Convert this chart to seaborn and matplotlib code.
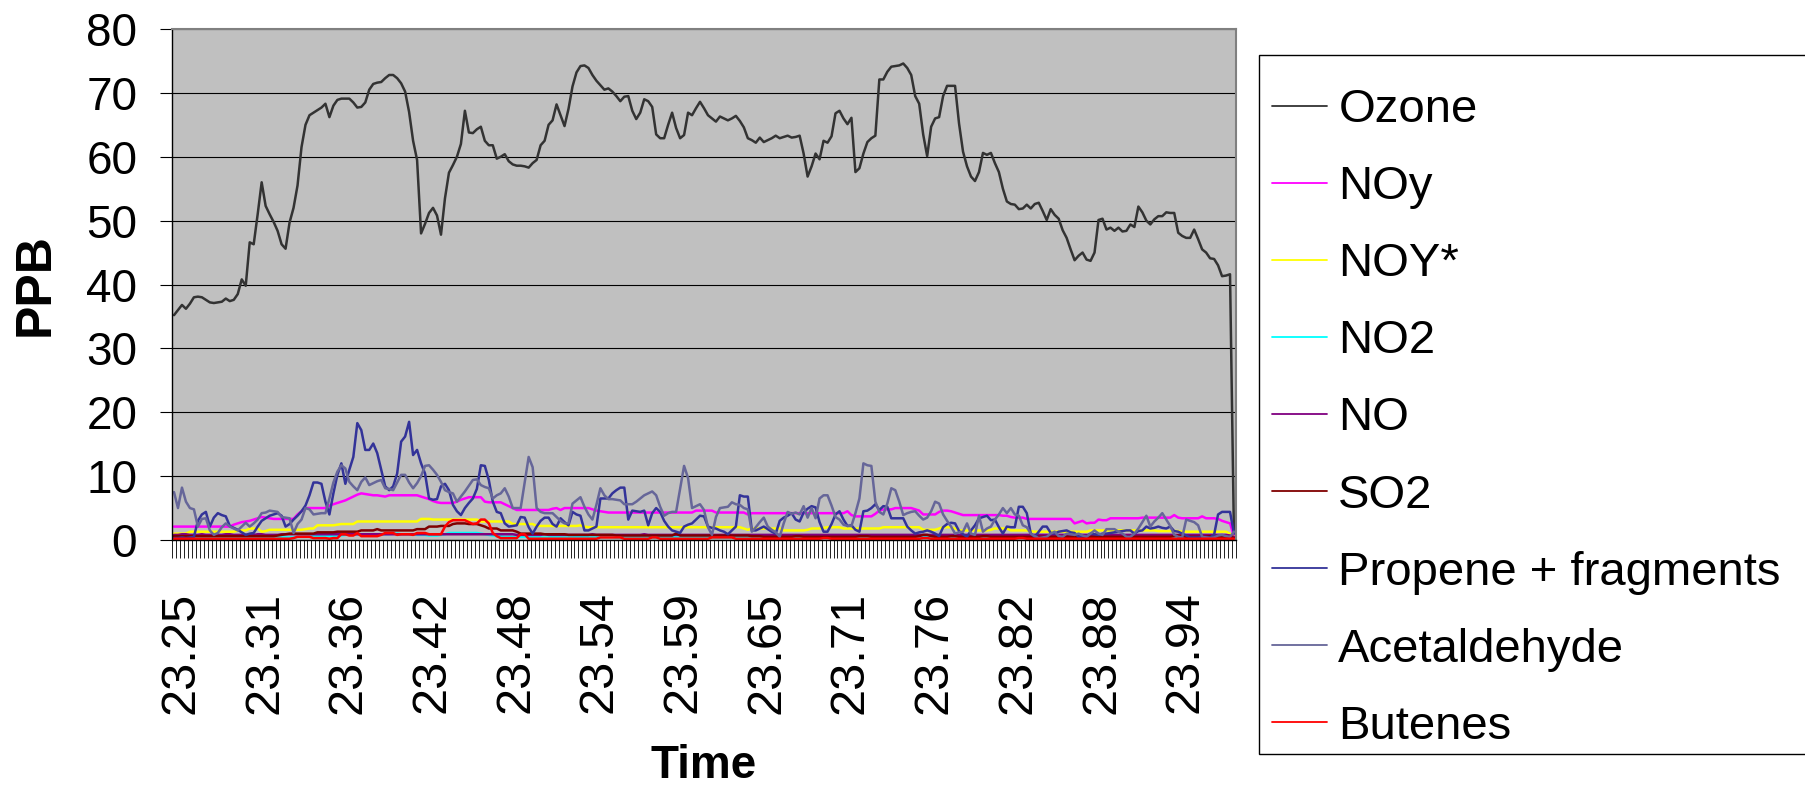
import numpy as np
import pandas as pd
import matplotlib
matplotlib.use("Agg")
import matplotlib.pyplot as plt
import matplotlib.transforms as mtransforms
from matplotlib.lines import Line2D
from matplotlib.patches import Rectangle
import seaborn as sns

# ---------------- data ----------------
tick_labels = ["23.25", "23.31", "23.36", "23.42", "23.48", "23.54", "23.59",
               "23.65", "23.71", "23.76", "23.82", "23.88", "23.94"]
label_every = 21

ozone = [
    35.2, 36.0, 36.8, 36.2, 37.0, 38.0, 38.1, 38.0, 37.6, 37.2,
    37.1, 37.2, 37.3, 37.8, 37.4, 37.6, 38.5, 40.8, 39.8, 46.6,
    46.3, 51.0, 56.0, 52.3, 51.0, 49.8, 48.4, 46.3, 45.6, 49.7,
    52.0, 55.5, 61.5, 65.0, 66.5, 66.9, 67.3, 67.7, 68.3, 66.2,
    68.0, 68.9, 69.1, 69.1, 69.1, 68.5, 67.7, 67.8, 68.5, 70.5,
    71.4, 71.6, 71.7, 72.3, 72.8, 72.8, 72.3, 71.5, 70.2, 67.0,
    62.5, 59.5, 48.0, 49.5, 51.2, 52.0, 50.8, 47.8, 53.5, 57.5,
    58.7, 60.0, 62.0, 67.2, 63.8, 63.7, 64.3, 64.7, 62.5, 61.8,
    61.8, 59.7, 60.0, 60.4, 59.3, 58.8, 58.6, 58.6, 58.5, 58.3,
    59.0, 59.5, 61.8, 62.5, 65.0, 65.7, 68.2, 66.5, 64.8, 67.5,
    71.0, 73.2, 74.2, 74.3, 73.9, 72.8, 71.9, 71.2, 70.5, 70.7,
    70.2, 69.5, 68.7, 69.4, 69.5, 67.2, 65.9, 66.9, 69.0, 68.7,
    67.8, 63.5, 62.9, 62.9, 65.0, 66.9, 64.5, 62.9, 63.4, 66.9,
    66.5, 67.6, 68.6, 67.6, 66.5, 66.0, 65.5, 66.3, 66.0, 65.7,
    66.0, 66.4, 65.6, 64.6, 62.9, 62.6, 62.2, 63.0, 62.3, 62.6,
    62.9, 63.3, 62.9, 63.1, 63.3, 63.0, 63.1, 63.3, 60.5, 56.9,
    58.5, 60.5, 59.6, 62.5, 62.2, 63.2, 66.8, 67.2, 66.0, 65.1,
    66.1, 57.6, 58.2, 60.5, 62.3, 62.9, 63.3, 72.1, 72.1, 73.3,
    74.1, 74.2, 74.3, 74.6, 73.9, 72.8, 69.5, 68.3, 63.5, 60.1,
    64.7, 66.0, 66.2, 69.5, 71.1, 71.1, 71.1, 65.2, 60.8, 58.5,
    56.9, 56.2, 57.6, 60.6, 60.3, 60.6, 59.0, 57.6, 55.0, 53.0,
    52.6, 52.5, 51.8, 51.9, 52.5, 51.9, 52.6, 52.8, 51.5, 50.1,
    51.8, 50.9, 50.3, 48.5, 47.3, 45.5, 43.8, 44.5, 45.0, 43.9,
    43.7, 45.0, 50.1, 50.3, 48.6, 48.9, 48.4, 48.9, 48.3, 48.4,
    49.4, 49.0, 52.2, 51.3, 50.0, 49.4, 50.2, 50.7, 50.7, 51.3,
    51.2, 51.2, 48.1, 47.6, 47.3, 47.3, 48.6, 47.1, 45.5, 45.0,
    44.1, 44.0, 43.0, 41.3, 41.4, 41.6, 0.3,
]

noy = [
    2.1, 2.1, 2.1, 2.1, 2.1, 2.1, 2.1, 2.1, 2.1, 2.1,
    2.1, 2.1, 2.1, 2.1, 2.1, 2.4, 2.6, 2.8, 2.9, 3.0,
    3.2, 3.4, 3.6, 3.5, 3.4, 3.3, 3.3, 3.3, 3.3, 3.3,
    3.3, 4.0, 4.5, 5.0, 5.0, 5.0, 5.0, 5.0, 5.0, 5.4,
    5.6, 5.8, 6.0, 6.2, 6.5, 6.8, 7.1, 7.3, 7.2, 7.1,
    7.0, 7.0, 6.9, 6.8, 7.0, 7.0, 7.0, 7.0, 7.0, 7.0,
    7.0, 7.0, 6.8, 6.6, 6.4, 6.1, 5.9, 5.8, 5.8, 5.8,
    5.8, 6.0, 6.3, 6.5, 6.7, 6.7, 6.7, 6.7, 6.0, 5.9,
    5.9, 5.9, 5.9, 5.6, 5.3, 5.0, 4.7, 4.7, 4.7, 4.7,
    4.7, 4.7, 4.7, 4.7, 4.7, 4.9, 5.0, 4.7, 5.0, 5.0,
    5.0, 5.0, 5.0, 5.0, 5.0, 4.8, 4.6, 4.5, 4.4, 4.3,
    4.3, 4.3, 4.3, 4.3, 4.3, 4.3, 4.3, 4.3, 4.3, 4.3,
    4.3, 4.3, 4.3, 4.3, 4.3, 4.3, 4.3, 4.3, 4.3, 4.3,
    4.3, 4.6, 4.6, 4.6, 4.6, 4.6, 4.3, 4.3, 4.3, 4.3,
    4.3, 4.3, 4.3, 4.3, 4.0, 4.2, 4.2, 4.2, 4.2, 4.2,
    4.2, 4.2, 4.2, 4.2, 4.2, 4.2, 4.2, 4.2, 4.2, 4.2,
    4.2, 4.2, 4.2, 4.2, 4.2, 4.2, 4.2, 4.2, 4.2, 4.5,
    3.9, 3.7, 3.7, 3.7, 3.7, 3.7, 4.1, 4.6, 4.8, 4.8,
    4.8, 5.0, 5.0, 5.0, 5.0, 5.0, 4.8, 4.6, 4.0, 4.0,
    4.0, 4.0, 4.4, 4.6, 4.6, 4.5, 4.3, 4.1, 3.9, 3.9,
    3.9, 3.9, 3.9, 3.9, 3.9, 3.9, 3.9, 3.9, 3.8, 3.8,
    3.6, 3.5, 3.5, 3.5, 3.3, 3.3, 3.3, 3.3, 3.3, 3.3,
    3.3, 3.3, 3.3, 3.3, 3.3, 3.3, 2.6, 2.8, 3.0, 2.6,
    2.7, 2.7, 3.2, 3.1, 3.1, 3.4, 3.4, 3.4, 3.4, 3.4,
    3.4, 3.4, 3.4, 3.5, 3.5, 3.5, 3.5, 3.5, 3.5, 3.5,
    3.5, 3.9, 3.5, 3.4, 3.4, 3.4, 3.4, 3.4, 3.7, 3.4,
    3.4, 3.4, 3.3, 3.0, 2.8, 2.6, 0.6,
]

noy_star = [
    1.0, 1.0, 1.0, 1.0, 1.3, 1.3, 1.3, 1.3, 1.3, 1.3,
    1.3, 1.3, 1.3, 1.3, 1.3, 1.3, 1.5, 1.5, 1.5, 1.8,
    1.8, 1.8, 1.3, 1.4, 1.6, 1.6, 1.6, 1.6, 1.6, 1.6,
    1.6, 1.6, 1.6, 1.7, 1.8, 1.8, 2.3, 2.3, 2.3, 2.3,
    2.3, 2.4, 2.5, 2.5, 2.5, 2.5, 2.9, 2.9, 2.9, 2.9,
    2.9, 2.9, 2.9, 2.9, 2.9, 2.9, 2.9, 2.9, 2.9, 2.9,
    2.9, 2.9, 3.3, 3.3, 3.3, 3.2, 3.2, 3.2, 3.2, 3.2,
    3.2, 3.2, 3.2, 3.2, 3.2, 3.2, 3.2, 2.9, 2.9, 2.9,
    2.9, 2.9, 2.9, 2.9, 2.9, 2.5, 2.5, 2.5, 2.5, 2.5,
    2.5, 2.2, 2.2, 2.2, 2.2, 2.2, 2.2, 2.2, 2.2, 2.2,
    2.2, 2.2, 2.3, 2.1, 2.0, 2.0, 2.0, 2.0, 2.0, 2.0,
    2.0, 2.0, 2.0, 2.0, 2.0, 2.0, 2.0, 2.0, 2.0, 2.0,
    2.0, 2.0, 2.0, 2.0, 2.0, 2.0, 2.0, 2.0, 2.0, 2.0,
    2.0, 2.0, 2.0, 2.0, 2.0, 2.0, 2.0, 2.0, 2.0, 2.0,
    2.0, 2.0, 2.0, 1.8, 1.6, 1.8, 1.8, 1.8, 1.8, 1.8,
    1.8, 1.8, 1.8, 1.5, 1.5, 1.5, 1.5, 1.5, 1.5, 1.6,
    1.8, 1.8, 1.8, 1.9, 2.0, 2.0, 2.0, 2.0, 1.8, 1.8,
    1.8, 1.8, 1.8, 1.8, 1.8, 1.8, 1.8, 1.8, 2.0, 2.0,
    2.0, 2.0, 2.0, 2.0, 2.0, 2.0, 2.0, 2.0, 1.6, 1.6,
    1.6, 1.6, 1.8, 2.0, 2.0, 2.0, 1.8, 1.5, 1.5, 1.5,
    1.5, 1.5, 1.5, 1.5, 1.5, 1.6, 1.8, 1.8, 1.8, 1.8,
    1.5, 1.5, 1.5, 1.5, 1.5, 1.4, 1.3, 1.3, 1.3, 1.3,
    1.3, 1.3, 1.3, 1.3, 1.3, 1.3, 1.3, 1.3, 1.3, 1.3,
    1.5, 1.5, 1.5, 1.5, 1.5, 1.5, 1.5, 1.5, 1.5, 1.5,
    1.5, 1.5, 1.5, 1.5, 1.5, 1.5, 1.5, 1.4, 1.4, 1.4,
    1.4, 1.4, 1.4, 1.3, 1.3, 1.3, 1.3, 1.3, 1.3, 1.3,
    1.3, 1.3, 1.3, 1.3, 1.3, 1.0, 0.5,
]

no2 = [
    0.4, 0.4, 0.4, 0.4, 0.4, 0.4, 0.3, 0.3, 0.3, 0.3,
    0.3, 0.3, 0.3, 0.3, 0.3, 0.3, 0.3, 0.3, 0.3, 0.3,
    0.3, 0.3, 0.3, 0.4, 0.4, 0.4, 0.4, 0.4, 0.4, 0.4,
    0.4, 0.5, 0.5, 0.5, 0.5, 0.6, 0.6, 0.6, 0.6, 0.6,
    0.6, 0.7, 0.7, 0.8, 0.9, 0.9, 0.9, 0.9, 0.9, 0.9,
    0.9, 0.9, 0.9, 0.9, 0.9, 1.0, 1.0, 0.9, 0.9, 0.9,
    0.9, 0.8, 0.8, 0.8, 0.7, 0.7, 0.7, 0.8, 0.9, 1.1,
    1.1, 1.1, 1.1, 1.1, 1.1, 1.1, 1.1, 1.0, 0.9, 0.8,
    0.7, 0.6, 0.6, 0.5, 0.5, 0.5, 0.5, 0.5, 0.5, 0.5,
    0.5, 0.5, 0.4, 0.4, 0.4, 0.5, 0.5, 0.4, 0.4, 0.4,
    0.4, 0.5, 0.5, 0.5, 0.4, 0.4, 0.4, 0.4, 0.5, 0.5,
    0.5, 0.4, 0.4, 0.4, 0.4, 0.4, 0.5, 0.5, 0.4, 0.4,
    0.4, 0.4, 0.4, 0.5, 0.5, 0.5, 0.4, 0.4, 0.4, 0.4,
    0.4, 0.4, 0.4, 0.5, 0.5, 0.4, 0.4, 0.4, 0.4, 0.4,
    0.4, 0.4, 0.5, 0.5, 0.5, 0.4, 0.4, 0.4, 0.4, 0.4,
    0.5, 0.5, 0.4, 0.4, 0.4, 0.4, 0.4, 0.5, 0.5, 0.4,
    0.4, 0.4, 0.4, 0.4, 0.4, 0.5, 0.5, 0.5, 0.4, 0.4,
    0.4, 0.4, 0.4, 0.4, 0.5, 0.5, 0.4, 0.4, 0.4, 0.4,
    0.4, 0.5, 0.5, 0.5, 0.4, 0.4, 0.4, 0.4, 0.4, 0.5,
    0.5, 0.4, 0.4, 0.4, 0.4, 0.4, 0.4, 0.5, 0.5, 0.4,
    0.4, 0.4, 0.4, 0.4, 0.5, 0.5, 0.4, 0.4, 0.4, 0.4,
    0.4, 0.4, 0.5, 0.5, 0.4, 0.4, 0.4, 0.4, 0.4, 0.4,
    0.5, 0.5, 0.4, 0.4, 0.4, 0.4, 0.4, 0.4, 0.5, 0.5,
    0.4, 0.4, 0.4, 0.4, 0.4, 0.5, 0.5, 0.4, 0.4, 0.4,
    0.4, 0.4, 0.4, 0.5, 0.5, 0.4, 0.4, 0.4, 0.4, 0.4,
    0.5, 0.5, 0.4, 0.4, 0.4, 0.4, 0.4, 0.4, 0.5, 0.5,
    0.4, 0.4, 0.4, 0.4, 0.4, 0.4, 0.3,
]

no = [
    0.8, 0.8, 0.9, 0.9, 0.8, 0.8, 0.8, 0.9, 0.8, 0.8,
    0.8, 0.8, 0.8, 0.9, 0.9, 0.8, 0.8, 0.8, 0.8, 0.8,
    0.8, 0.9, 0.9, 0.8, 0.8, 0.8, 0.8, 0.9, 0.9, 0.9,
    0.9, 0.9, 0.9, 0.9, 0.9, 0.9, 0.9, 0.9, 0.9, 0.9,
    0.9, 0.9, 0.9, 0.9, 0.9, 0.9, 0.9, 0.9, 0.9, 0.9,
    0.9, 0.9, 0.9, 0.9, 0.9, 0.9, 0.9, 0.9, 0.9, 0.9,
    0.9, 0.9, 0.9, 0.9, 0.9, 0.9, 0.9, 0.9, 0.9, 0.9,
    0.9, 0.9, 0.9, 0.9, 0.9, 0.9, 0.9, 0.9, 0.9, 0.9,
    0.9, 0.9, 0.9, 0.9, 0.9, 0.9, 0.8, 0.8, 0.8, 0.8,
    0.8, 0.8, 0.8, 0.9, 0.8, 0.8, 0.8, 0.8, 0.8, 0.8,
    0.8, 0.8, 0.8, 0.8, 0.8, 0.9, 0.8, 0.8, 0.8, 0.8,
    0.8, 0.8, 0.8, 0.8, 0.8, 0.8, 0.8, 0.8, 0.9, 0.8,
    0.8, 0.8, 0.8, 0.8, 0.8, 0.8, 0.8, 0.8, 0.8, 0.8,
    0.8, 0.8, 0.8, 0.8, 0.8, 0.8, 0.8, 0.8, 0.8, 0.8,
    0.8, 0.8, 0.8, 0.8, 0.8, 0.8, 0.8, 0.8, 0.8, 0.8,
    0.8, 0.8, 0.8, 0.8, 0.8, 0.8, 0.8, 0.8, 0.8, 0.8,
    0.8, 0.8, 0.8, 0.8, 0.8, 0.8, 0.8, 0.8, 0.8, 0.8,
    0.8, 0.8, 0.8, 0.8, 0.8, 0.8, 0.8, 0.8, 0.8, 0.8,
    0.8, 0.8, 0.8, 0.8, 0.8, 0.8, 0.8, 0.8, 0.8, 0.8,
    0.8, 0.8, 0.8, 0.8, 0.8, 0.8, 0.8, 0.8, 0.8, 0.8,
    0.8, 0.8, 0.8, 0.8, 0.8, 0.8, 0.8, 0.8, 0.8, 0.8,
    0.8, 0.8, 0.8, 0.8, 0.8, 0.8, 0.8, 0.8, 0.8, 0.8,
    0.8, 0.8, 0.8, 0.8, 0.8, 0.8, 0.8, 0.8, 0.8, 0.8,
    0.8, 0.8, 0.8, 0.8, 0.8, 0.8, 0.8, 0.8, 0.8, 0.8,
    0.8, 0.8, 0.8, 0.8, 0.8, 0.8, 0.8, 0.8, 0.8, 0.8,
    0.8, 0.8, 0.8, 0.8, 0.8, 0.8, 0.8, 0.8, 0.8, 0.8,
    0.8, 0.8, 0.8, 0.8, 0.8, 0.7, 0.5,
]

so2 = [
    0.6, 0.6, 0.6, 0.6, 0.6, 0.6, 0.6, 0.6, 0.6, 0.6,
    0.6, 0.6, 0.6, 0.6, 0.6, 0.6, 0.6, 0.6, 0.6, 0.6,
    0.6, 0.6, 0.6, 0.6, 0.6, 0.6, 0.7, 0.8, 0.9, 1.0,
    1.0, 1.0, 1.0, 1.0, 1.0, 1.0, 1.2, 1.2, 1.2, 1.2,
    1.2, 1.3, 1.3, 1.3, 1.3, 1.3, 1.3, 1.5, 1.5, 1.5,
    1.5, 1.7, 1.5, 1.5, 1.5, 1.5, 1.5, 1.5, 1.5, 1.5,
    1.5, 1.7, 1.7, 1.7, 2.1, 2.1, 2.1, 2.2, 2.2, 2.2,
    2.5, 2.6, 2.6, 2.6, 2.5, 2.5, 2.5, 2.3, 2.1, 1.8,
    1.8, 1.8, 1.5, 1.5, 1.5, 1.5, 1.3, 1.0, 1.0, 1.0,
    1.0, 1.0, 1.0, 0.9, 0.9, 0.9, 0.9, 0.9, 0.9, 0.8,
    0.8, 0.8, 0.8, 0.8, 0.8, 0.8, 0.8, 0.8, 0.8, 0.8,
    0.8, 0.7, 0.7, 0.7, 0.7, 0.7, 0.7, 0.7, 0.7, 0.7,
    0.7, 0.7, 0.7, 0.7, 0.7, 0.7, 1.0, 0.7, 0.7, 0.7,
    0.7, 0.7, 0.7, 0.7, 0.7, 0.7, 0.7, 0.7, 0.7, 0.7,
    0.7, 0.7, 0.7, 0.7, 0.7, 0.6, 0.6, 0.6, 0.5, 0.5,
    0.5, 0.5, 0.5, 0.5, 0.5, 0.5, 0.6, 0.6, 0.5, 0.5,
    0.5, 0.5, 0.5, 0.5, 0.5, 0.5, 0.5, 0.5, 0.5, 0.5,
    0.5, 0.5, 0.6, 0.6, 0.6, 0.5, 0.5, 0.5, 0.5, 0.5,
    0.5, 0.5, 0.5, 0.5, 0.5, 0.5, 0.5, 0.6, 0.8, 0.8,
    0.6, 0.5, 0.5, 0.5, 0.5, 0.6, 0.6, 0.5, 0.5, 0.5,
    0.5, 0.5, 0.5, 0.6, 0.6, 0.5, 0.5, 0.5, 0.5, 0.5,
    0.5, 0.5, 0.5, 0.5, 0.5, 0.5, 0.5, 0.5, 0.5, 0.5,
    0.5, 0.5, 0.5, 0.5, 0.5, 0.5, 0.5, 0.5, 0.5, 0.5,
    0.5, 0.5, 0.5, 0.5, 0.5, 0.5, 0.5, 0.5, 0.5, 0.5,
    0.5, 0.5, 0.5, 0.5, 0.5, 0.5, 0.5, 0.5, 0.5, 0.5,
    0.5, 0.6, 0.7, 0.6, 0.5, 0.5, 0.5, 0.5, 0.5, 0.5,
    0.6, 0.5, 0.5, 0.5, 0.5, 0.5, 0.3,
]

propene = [
    0.3, 0.3, 0.4, 0.3, 0.4, 0.5, 3.0, 4.0, 4.4, 2.1,
    3.5, 4.2, 3.9, 3.7, 2.2, 1.9, 1.6, 1.2, 0.8, 1.0,
    1.1, 2.1, 3.0, 3.4, 3.8, 4.0, 4.2, 3.8, 2.1, 2.5,
    3.2, 3.8, 4.5, 5.4, 7.0, 9.0, 9.0, 8.8, 6.0, 4.0,
    7.3, 10.2, 12.0, 8.8, 11.0, 13.0, 18.3, 17.2, 14.1, 14.1,
    15.1, 13.6, 11.0, 8.4, 7.8, 8.4, 10.4, 15.4, 16.2, 18.5,
    13.3, 14.1, 12.0, 10.4, 6.5, 6.3, 6.4, 8.4, 8.8, 7.8,
    5.5, 4.5, 3.9, 5.0, 5.8, 6.5, 8.0, 11.7, 11.6, 9.4,
    6.0, 4.4, 4.2, 2.6, 2.1, 2.2, 2.3, 3.6, 3.5, 2.0,
    1.0, 2.1, 3.0, 3.5, 3.5, 2.5, 2.1, 3.4, 2.8, 2.3,
    4.4, 4.0, 3.8, 1.5, 1.5, 1.8, 2.1, 6.5, 6.5, 6.5,
    7.3, 7.8, 8.2, 8.2, 3.2, 4.6, 4.5, 4.4, 4.6, 2.3,
    4.2, 5.0, 4.4, 3.0, 2.1, 1.5, 1.3, 1.1, 2.1, 2.4,
    2.6, 3.2, 3.8, 3.7, 2.1, 1.9, 1.8, 1.5, 1.3, 0.9,
    1.5, 2.1, 7.0, 6.8, 6.8, 1.5, 1.5, 1.8, 2.1, 1.7,
    1.3, 1.0, 3.0, 3.5, 3.8, 4.2, 3.2, 2.9, 4.3, 4.9,
    5.3, 5.1, 2.8, 1.3, 1.3, 2.5, 4.0, 4.5, 3.2, 2.2,
    2.3, 1.6, 1.3, 4.5, 4.6, 5.0, 5.6, 4.7, 5.3, 5.2,
    3.4, 3.4, 3.4, 3.4, 2.1, 1.5, 1.0, 1.2, 1.3, 1.5,
    1.3, 1.0, 0.6, 2.0, 2.5, 2.7, 2.6, 1.4, 0.9, 0.5,
    1.5, 2.3, 3.4, 3.6, 3.8, 3.1, 3.2, 2.0, 1.0, 2.1,
    2.0, 2.0, 5.2, 5.2, 4.2, 1.0, 0.5, 1.3, 2.1, 2.1,
    1.1, 1.0, 1.3, 1.4, 1.5, 1.2, 1.1, 0.5, 0.6, 0.6,
    1.0, 0.9, 0.8, 1.0, 1.0, 1.1, 1.2, 1.3, 1.4, 1.5,
    1.5, 1.0, 1.4, 1.5, 2.1, 1.8, 1.9, 2.1, 1.9, 1.8,
    2.1, 1.4, 1.3, 1.0, 0.7, 0.4, 0.4, 0.4, 0.5, 0.4,
    0.4, 0.8, 4.0, 4.4, 4.4, 4.4, 1.0,
]

acetaldehyde = [
    7.5, 5.0, 8.2, 6.0, 5.0, 4.8, 2.1, 3.3, 3.4, 1.5,
    0.8, 1.1, 2.0, 2.6, 2.1, 1.8, 1.5, 2.1, 2.7, 2.1,
    2.6, 3.2, 4.2, 4.3, 4.6, 4.5, 4.4, 3.6, 3.5, 3.4,
    1.1, 2.5, 3.2, 5.0, 4.8, 4.0, 4.1, 4.2, 4.2, 6.5,
    9.0, 10.7, 11.7, 11.2, 9.1, 8.4, 7.8, 9.1, 9.8, 8.6,
    8.9, 9.2, 9.4, 8.1, 8.0, 7.8, 9.0, 10.2, 10.2, 9.0,
    8.1, 8.9, 10.0, 11.6, 11.7, 11.0, 10.2, 9.1, 7.8, 7.5,
    7.3, 6.0, 6.8, 7.6, 8.5, 9.4, 9.5, 8.6, 8.3, 8.1,
    6.5, 7.0, 7.3, 8.1, 6.8, 5.0, 5.0, 5.0, 9.0, 13.0,
    11.4, 5.0, 4.4, 4.2, 4.2, 4.2, 3.6, 3.0, 2.6, 2.6,
    5.7, 6.2, 6.7, 5.2, 4.0, 3.2, 5.5, 8.1, 7.0, 6.4,
    6.4, 6.3, 6.2, 5.6, 5.6, 5.6, 6.0, 6.5, 7.0, 7.3,
    7.6, 7.0, 5.2, 3.8, 4.2, 4.4, 4.4, 8.0, 11.6, 9.7,
    5.0, 5.3, 5.6, 4.7, 2.0, 0.8, 3.6, 5.0, 5.1, 5.2,
    5.9, 5.6, 5.5, 5.0, 4.8, 1.3, 2.0, 2.8, 3.5, 2.1,
    1.6, 1.2, 0.5, 2.6, 4.4, 4.1, 4.3, 4.0, 5.3, 3.5,
    5.0, 3.4, 6.5, 7.0, 7.0, 5.4, 3.6, 3.2, 2.4, 2.2,
    2.2, 4.2, 6.5, 12.0, 11.7, 11.6, 6.0, 4.4, 4.0, 5.7,
    8.1, 7.8, 6.0, 3.9, 4.2, 4.4, 4.5, 3.8, 3.2, 3.5,
    4.5, 6.0, 5.7, 4.0, 3.0, 2.1, 1.0, 1.2, 1.3, 2.6,
    1.0, 0.8, 3.8, 1.3, 1.8, 2.1, 3.2, 4.0, 5.0, 4.2,
    5.0, 4.0, 3.8, 2.3, 2.0, 1.0, 0.6, 0.3, 0.4, 0.5,
    1.0, 1.3, 0.6, 0.5, 1.0, 0.9, 0.8, 1.0, 0.7, 0.5,
    1.0, 1.5, 1.0, 0.8, 1.7, 1.7, 1.7, 1.3, 1.0, 0.5,
    0.5, 1.0, 1.8, 2.8, 3.8, 2.1, 2.9, 3.5, 4.2, 3.2,
    2.2, 0.8, 0.5, 0.4, 3.2, 3.0, 2.8, 2.3, 0.5, 0.4,
    0.3, 0.4, 0.7, 0.8, 0.6, 0.5, 1.3,
]

butenes = [
    0.2, 0.2, 0.2, 0.2, 0.2, 0.2, 0.2, 0.2, 0.2, 0.2,
    0.2, 0.2, 0.2, 0.2, 0.2, 0.2, 0.2, 0.2, 0.2, 0.2,
    0.2, 0.2, 0.2, 0.2, 0.2, 0.2, 0.2, 0.2, 0.2, 0.2,
    0.3, 0.5, 0.5, 0.5, 0.5, 0.3, 0.3, 0.3, 0.3, 0.2,
    0.3, 0.3, 0.9, 0.9, 0.7, 0.7, 1.1, 0.6, 0.6, 0.6,
    0.6, 0.6, 0.8, 1.1, 1.1, 1.1, 0.8, 0.9, 0.9, 0.9,
    0.8, 1.1, 1.1, 1.1, 0.9, 0.9, 0.9, 0.9, 2.1, 2.8,
    3.1, 3.1, 3.1, 3.1, 2.8, 2.5, 2.6, 3.2, 3.2, 2.6,
    1.1, 0.6, 0.3, 0.3, 0.3, 0.3, 0.3, 0.9, 0.9, 0.2,
    0.2, 0.2, 0.2, 0.2, 0.2, 0.2, 0.2, 0.2, 0.2, 0.2,
    0.2, 0.2, 0.2, 0.2, 0.2, 0.2, 0.2, 0.4, 0.4, 0.4,
    0.4, 0.4, 0.4, 0.2, 0.2, 0.2, 0.2, 0.2, 0.2, 0.2,
    0.4, 0.4, 0.2, 0.2, 0.2, 0.2, 0.2, 0.2, 0.2, 0.2,
    0.2, 0.2, 0.2, 0.2, 0.2, 0.4, 0.4, 0.4, 0.4, 0.4,
    0.4, 0.2, 0.2, 0.2, 0.2, 0.2, 0.2, 0.2, 0.2, 0.2,
    0.2, 0.2, 0.2, 0.2, 0.2, 0.2, 0.2, 0.2, 0.2, 0.2,
    0.2, 0.2, 0.2, 0.3, 0.3, 0.2, 0.2, 0.2, 0.2, 0.2,
    0.2, 0.2, 0.2, 0.2, 0.2, 0.2, 0.2, 0.2, 0.2, 0.2,
    0.2, 0.2, 0.2, 0.2, 0.2, 0.2, 0.2, 0.2, 0.3, 0.3,
    0.2, 0.2, 0.2, 0.2, 0.2, 0.2, 0.2, 0.2, 0.2, 0.2,
    0.2, 0.2, 0.2, 0.2, 0.2, 0.2, 0.2, 0.2, 0.2, 0.2,
    0.2, 0.2, 0.3, 0.3, 0.2, 0.2, 0.2, 0.2, 0.2, 0.2,
    0.2, 0.2, 0.2, 0.2, 0.2, 0.2, 0.2, 0.2, 0.2, 0.2,
    0.2, 0.2, 0.2, 0.2, 0.2, 0.2, 0.2, 0.2, 0.2, 0.2,
    0.2, 0.2, 0.2, 0.2, 0.2, 0.2, 0.2, 0.2, 0.2, 0.2,
    0.2, 0.2, 0.2, 0.2, 0.2, 0.2, 0.2, 0.2, 0.2, 0.2,
    0.2, 0.2, 0.2, 0.2, 0.2, 0.2, 0.2,
]

series_names = ["Ozone", "NOy", "NOY*", "NO2", "NO", "SO2",
                "Propene + fragments", "Acetaldehyde", "Butenes"]
series_values = [ozone, noy, noy_star, no2, no, so2, propene, acetaldehyde, butenes]
series_colors = ["#333333", "#FF00FF", "#FFFF00", "#00FFFF", "#800080",
                 "#800000", "#333399", "#666699", "#FF0000"]

n_points = len(ozone)
assert all(len(v) == n_points for v in series_values), [len(v) for v in series_values]

frames = []
for name, vals in zip(series_names, series_values):
    frames.append(pd.DataFrame({"idx": np.arange(n_points), "ppb": vals, "series": name}))
df = pd.concat(frames, ignore_index=True)

# ---------------- style ----------------
sns.set_theme(style="white")
plt.rcParams["font.family"] = ["Liberation Sans", "DejaVu Sans"]
plt.rcParams["text.color"] = "black"
plt.rcParams["axes.labelcolor"] = "black"
plt.rcParams["xtick.color"] = "black"
plt.rcParams["ytick.color"] = "black"

W, H = 1806, 799
fig = plt.figure(figsize=(W / 100, H / 100), dpi=100)
fig.patch.set_facecolor("white")
ax = fig.add_axes([172 / W, 1 - 540 / H, 1064 / W, 511 / H])
ax.set_facecolor("#C0C0C0")

sns.lineplot(data=df, x="idx", y="ppb", hue="series", hue_order=series_names,
             palette=dict(zip(series_names, series_colors)), estimator=None,
             sort=False, linewidth=1.8, ax=ax, legend=False)

ax.set_xlim(-0.5, n_points - 0.5)
ax.set_ylim(0, 80)
ax.set_yticks(np.arange(0, 81, 10))
ax.yaxis.grid(True, color="black", linewidth=0.8)
ax.xaxis.grid(False)
ax.set_axisbelow(True)

label_pos = np.arange(len(tick_labels)) * label_every
ax.set_xticks(label_pos)
ax.set_xticklabels(tick_labels, rotation=90, fontsize=35, color="black")
ax.set_xticks(np.arange(n_points + 1) - 0.5, minor=True)
ax.tick_params(axis="x", which="major", bottom=True, length=0, pad=37)
ax.tick_params(axis="x", which="minor", bottom=True, length=13, width=0.7, color="#202020")
ax.tick_params(axis="y", which="major", left=True, length=8.6, width=0.8,
               color="black", pad=16.5, labelsize=33, labelcolor="black")

offset = mtransforms.ScaledTranslation(7 / 100, 0, fig.dpi_scale_trans)
for lab in ax.get_xticklabels():
    lab.set_transform(lab.get_transform() + offset)

for side in ["left", "bottom"]:
    ax.spines[side].set_color("black")
    ax.spines[side].set_linewidth(1.0)
for side in ["top", "right"]:
    ax.spines[side].set_color("#808080")
    ax.spines[side].set_linewidth(1.5)

ax.set_ylabel("PPB", fontsize=36, fontweight="bold", color="black")
ax.yaxis.set_label_coords(-0.107, 0.5)
ax.set_xlabel("Time", fontsize=33, fontweight="bold", color="black")
ax.xaxis.set_label_coords(0.5, -0.399)

# legend box (border drawn as a separate frame, running off the right edge as in the original)
fig.patches.append(Rectangle((1259 / W, 1 - 754 / H), (W - 1259 + 20) / W, (754 - 55) / H,
                             transform=fig.transFigure, facecolor="white",
                             edgecolor="black", linewidth=1.0, zorder=0))

handles = [Line2D([0], [0], color=c, linewidth=1.3) for c in series_colors]
leg = fig.legend(handles, series_names, loc="upper left",
                 bbox_to_anchor=(1251 / W, 1 - 67 / H), bbox_transform=fig.transFigure,
                 frameon=False, fontsize=34, labelcolor="black",
                 handlelength=1.15, handletextpad=0.25, labelspacing=0.70,
                 borderpad=0.45, borderaxespad=0)

fig.savefig("out.png", dpi=100)
